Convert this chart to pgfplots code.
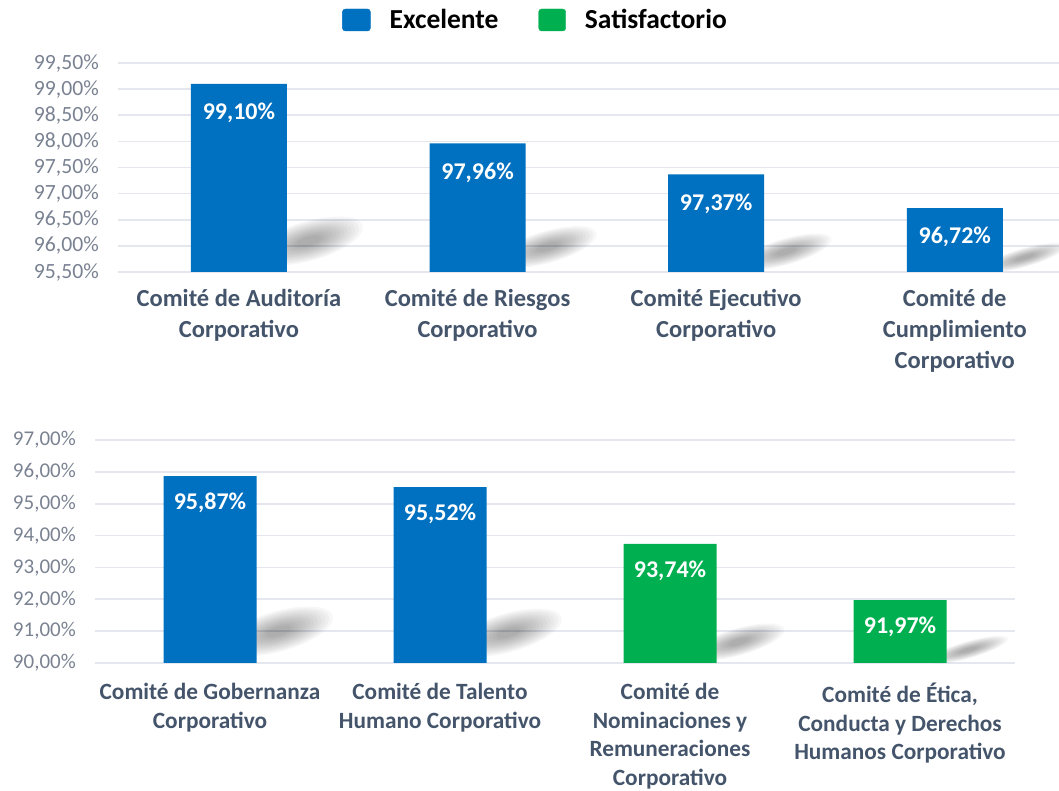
\documentclass[border=0pt]{standalone}
\usepackage{fontspec}
\setmainfont{Carlito}
\usepackage{pgfplots}
\pgfplotsset{compat=1.18}
\definecolor{cblue}{HTML}{0070C0}
\definecolor{cgreen}{HTML}{00B050}
\definecolor{ctext}{HTML}{44546A}
\definecolor{ctick}{HTML}{7A8292}
\definecolor{cgrid}{HTML}{E4E8EE}
\newcommand\shlayer[5]{\fill[black, fill opacity=0.03, shift={(axis cs:#1,#2)}, xshift=#3+22pt, yshift=0.66*#4pt, rotate=16] (0pt,0pt) ellipse ({#5*(30pt+0.55*#4pt)} and {#5*0.42*#4pt});}
\newcommand\barshadow[4]{%
  \shlayer{#1}{#2}{#3}{#4}{1.0}%
  \shlayer{#1}{#2}{#3}{#4}{0.93}%
  \shlayer{#1}{#2}{#3}{#4}{0.86}%
  \shlayer{#1}{#2}{#3}{#4}{0.79}%
  \shlayer{#1}{#2}{#3}{#4}{0.72}%
  \shlayer{#1}{#2}{#3}{#4}{0.65}%
  \shlayer{#1}{#2}{#3}{#4}{0.58}%
  \shlayer{#1}{#2}{#3}{#4}{0.51}%
  \shlayer{#1}{#2}{#3}{#4}{0.44}%
  \shlayer{#1}{#2}{#3}{#4}{0.37}%
  \shlayer{#1}{#2}{#3}{#4}{0.30}%
  \shlayer{#1}{#2}{#3}{#4}{0.23}}
\begin{document}
\begin{tikzpicture}
\path[use as bounding box] (0pt,0pt) rectangle (1059pt,791pt);
\pgfplotsset{
  base/.style={
    scale only axis,
    axis line style={draw=none},
    ymajorgrids, major grid style={cgrid, line width=1.6pt},
    major tick length=0pt,
    xtick={0,1,2,3},
    ybar, bar shift=0pt,
    /pgf/number format/assume math mode=true,
    yticklabel={\pgfmathprintnumber[fixed,fixed zerofill,precision=2,use comma]{\tick}\%},
    yticklabel style={anchor=east, inner sep=0pt, xshift=-19pt, text=ctick},
    xticklabel style={anchor=north, inner sep=0pt, align=center, text=ctext, font=\bfseries\fontsize{24.5}{31}\selectfont},
    nodes near coords={\pgfmathprintnumber[fixed,fixed zerofill,precision=2,use comma]{\pgfplotspointmeta}\%},
    every node near coord/.append style={anchor=north, inner sep=0pt, text=white, font=\bfseries\fontsize{24}{27}\selectfont},
    clip=false,
  }
}
\begin{axis}[base,
  at={(118pt,519pt)}, anchor=south west, width=941pt, height=209pt,
  xmin=-0.507, xmax=3.437, ymin=95.5, ymax=99.5,
  ytick={95.5,96,96.5,97,97.5,98,98.5,99,99.5},
  yticklabel style={font=\fontsize{21.7}{24}\selectfont},
  xticklabel style={yshift=-17pt},
  every node near coord/.append style={yshift=-19pt},
  bar width=96pt,
  xticklabels={{Comité de Auditoría\\Corporativo},{Comité de Riesgos\\Corporativo},{Comité Ejecutivo\\Corporativo},{Comité de\\Cumplimiento\\Corporativo}},
  legend style={at={(axis description cs:0.4426,1.2057)}, anchor=center, draw=none, fill=none,
    legend columns=2, font=\bfseries\fontsize{27.5}{30}\selectfont,
    /tikz/every odd column/.append style={column sep=19pt},
    /tikz/every even column/.append style={column sep=40pt},
    nodes={inner sep=0pt}},
]
\barshadow{0}{95.5}{48pt}{47}
\barshadow{1}{95.5}{48pt}{38}
\barshadow{2}{95.5}{48pt}{31}
\barshadow{3}{95.5}{48pt}{22}
\addplot[fill=cblue, draw=none, forget plot] coordinates {(0,99.10) (1,97.96) (2,97.37) (3,96.72)};
\addlegendimage{legend image code/.code={\fill[cblue, rounded corners=3pt] (0pt,-11pt) rectangle (28pt,11pt);}}
\addlegendentry{Excelente}
\addlegendimage{legend image code/.code={\fill[cgreen, rounded corners=3pt] (0pt,-11pt) rectangle (27pt,11pt);}}
\addlegendentry{Satisfactorio}
\end{axis}
\begin{axis}[base,
  at={(95pt,128pt)}, anchor=south west, width=920pt, height=223pt,
  xmin=-0.5, xmax=3.5, ymin=90, ymax=97,
  ytick={90,91,92,93,94,95,96,97},
  yticklabel style={font=\fontsize{21}{24}\selectfont},
  xticklabel style={yshift=-20pt, font=\bfseries\fontsize{23.3}{28.5}\selectfont},
  every node near coord/.append style={yshift=-17pt},
  bar width=93pt,
  xticklabels={{Comité de Gobernanza\\Corporativo},{Comité de Talento\\Humano Corporativo},{Comité de\\Nominaciones y\\Remuneraciones\\Corporativo},{Comité de Ética,\\Conducta y Derechos\\Humanos Corporativo}},
]
\barshadow{0}{90}{46.5pt}{48}
\barshadow{1}{90}{46.5pt}{46}
\barshadow{2}{90}{46.5pt}{32}
\barshadow{3}{90}{46.5pt}{20}
\addplot[fill=cblue, draw=none] coordinates {(0,95.87) (1,95.52)};
\addplot[fill=cgreen, draw=none] coordinates {(2,93.74) (3,91.97)};
\end{axis}
\end{tikzpicture}
\end{document}
